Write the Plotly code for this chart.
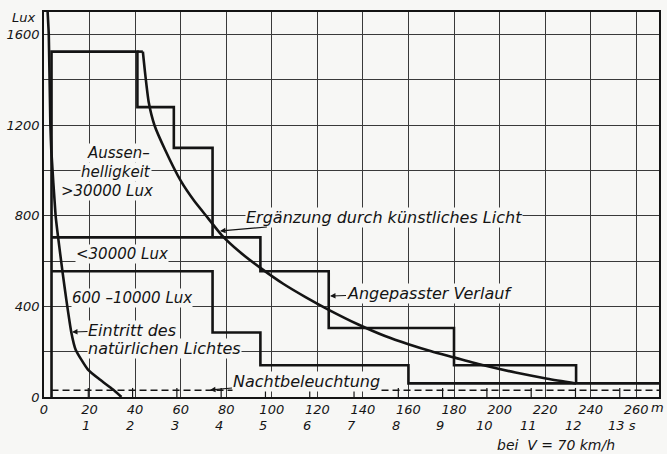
import plotly.graph_objects as go

# ---------------- data ----------------
x_tick_vals = list(range(0, 261, 20))
x_tick_text = [str(v) for v in x_tick_vals]
y_grid_vals = list(range(0, 1601, 200))
y_tick_text = ["0", "", "400", "", "800", "", "1200", "", "1600"]
seconds = list(range(1, 14))
second_labels = [str(s) for s in seconds[:-1]] + ["13 s"]
speed_kmh = 70

# Eintritt des natürlichen Lichtes (steep curve)
nat_x = [1.4, 1.6, 2.1, 2.8, 3.2, 5.1, 6.2, 8.1, 9.8, 12.0, 13.9, 19.3, 24.5, 30.3, 34.0]
nat_y = [1760, 1700, 1600, 1200, 1090, 800, 705, 555, 430, 285, 209, 121, 77, 33, 0]

# Ergänzung durch künstliches Licht (smooth curve, after the plateau)
plateau_x = [41, 43.4]
plateau_y = [1525, 1525]
sup_x = [43.4, 44.5, 46, 48.5, 53, 60, 66, 72, 78, 86, 95, 105, 115, 125, 138, 150, 160, 170, 180, 193, 207, 221, 233.6]
sup_y = [1525, 1420, 1300, 1200, 1095, 955, 865, 790, 715, 640, 570, 500, 440, 385, 320, 268, 233, 202, 175, 140, 108, 81, 60]

# Angepasster Verlauf (steps)
s1_x = [3.3, 3.3, 41, 41, 57, 57, 74, 74]
s1_y = [0, 1525, 1525, 1280, 1280, 1100, 1100, 705]
s2_x = [3.3, 95, 95, 125, 125, 180, 180, 233.6, 233.6]
s2_y = [705, 705, 555, 555, 305, 305, 140, 140, 60]
s3_x = [3.3, 74, 74, 95, 95, 160, 160, 270]
s3_y = [555, 555, 285, 285, 140, 140, 60, 60]

# Nachtbeleuchtung
night_x = [3.3, 270]
night_y = [30, 30]
sec_tick_top = 40

# ---------------- geometry helpers ----------------
W, H = 667, 454
L, R, T, B = 44, 8, 12, 57
X0, X1 = 0, 270
Y0, Y1 = 0, 1700
pw = W - L - R
ph = H - T - B


def px2x(px):
    return (px - L) / pw * (X1 - X0) + X0


def py2y(py):
    return (H - B - py) / ph * (Y1 - Y0) + Y0


def py2paper(py):
    return (H - B - py) / ph


def px2paper(px):
    return (px - L) / pw


BG = "#f7f7f5"
INK = "#141414"
FONT = dict(family="DejaVu Sans", style="italic", color=INK)

fig = go.Figure()

heavy = dict(color=INK, width=2.6)
fig.add_trace(go.Scatter(x=s1_x, y=s1_y, mode="lines", line=heavy, hoverinfo="skip"))
fig.add_trace(go.Scatter(x=s2_x, y=s2_y, mode="lines", line=heavy, hoverinfo="skip"))
fig.add_trace(go.Scatter(x=s3_x, y=s3_y, mode="lines", line=heavy, hoverinfo="skip"))
fig.add_trace(go.Scatter(x=plateau_x, y=plateau_y, mode="lines", line=heavy, hoverinfo="skip"))
fig.add_trace(go.Scatter(x=sup_x, y=sup_y, mode="lines",
                         line=dict(color=INK, width=2.6, shape="spline", smoothing=0.6),
                         hoverinfo="skip"))
fig.add_trace(go.Scatter(x=nat_x, y=nat_y, mode="lines",
                         line=dict(color=INK, width=2.6, shape="spline", smoothing=0.5),
                         hoverinfo="skip"))
fig.add_trace(go.Scatter(x=night_x, y=night_y, mode="lines",
                         line=dict(color=INK, width=1.4, dash="7px,4px"), hoverinfo="skip"))

# second ticks on the base line
sec_m = [s * speed_kmh / 3.6 for s in seconds]
tx, ty = [], []
for m in sec_m:
    tx += [m, m, None]
    ty += [0, sec_tick_top, None]
fig.add_trace(go.Scatter(x=tx, y=ty, mode="lines", line=dict(color=INK, width=1.2),
                         hoverinfo="skip"))

ann = []
C = dict(xanchor="center", yanchor="middle")
# second labels
for m, lab in zip(sec_m, second_labels):
    ann.append(dict(x=m - 1 + (2 if lab == "13 s" else 0), y=py2paper(425), xref="x", yref="paper",
                    text=lab, showarrow=False, font=dict(FONT, size=13), **C))
ann.append(dict(x=px2x(556), y=py2paper(445), xref="x", yref="paper", text="bei  V = 70 km/h",
                showarrow=False, font=dict(FONT, size=14), **C))
ann.append(dict(x=px2x(657), y=py2paper(408), xref="x", yref="paper", text="m",
                showarrow=False, font=dict(FONT, size=13), **C))
ann.append(dict(x=px2paper(24), y=py2paper(17), xref="paper", yref="paper", text="Lux",
                showarrow=False, font=dict(FONT, size=13), **C))

# plain labels
for txt, cx, cy in [("Aussen–", 118, 153), ("helligkeit", 116, 172), (">30000 Lux", 107, 191),
                    ("<30000 Lux", 122, 254), ("600 –10000 Lux", 132, 298)]:
    ann.append(dict(x=px2x(cx), y=py2y(cy), xref="x", yref="y", text=txt, showarrow=False,
                    font=dict(FONT, size=15), bgcolor=BG, borderpad=0, **C))
ann.append(dict(x=px2x(87), y=py2y(348), xref="x", yref="y", text="natürlichen Lichtes",
                xanchor="left", yanchor="middle", showarrow=False, font=dict(FONT, size=16),
                bgcolor=BG, borderpad=0))

# labels with arrows: (text, tip px, text centre px)
for txt, tip, cen in [("Eintritt des", (72, 332), (132, 330)),
                      ("Ergänzung durch künstliches Licht", (220, 231), (384, 217)),
                      ("Angepasster Verlauf", (330, 296), (429, 293)),
                      ("Nachtbeleuchtung", (210, 390), (306, 381))]:
    ann.append(dict(x=px2x(tip[0]), y=py2y(tip[1]), xref="x", yref="y", text=txt,
                    showarrow=True, ax=cen[0] - tip[0], ay=cen[1] - tip[1],
                    arrowhead=2, arrowsize=1, arrowwidth=1.1, arrowcolor=INK, standoff=0,
                    font=dict(FONT, size=16), bgcolor=BG, borderpad=0))

fig.update_layout(
    width=W, height=H,
    margin=dict(l=L, r=R, t=T, b=B, autoexpand=False),
    paper_bgcolor=BG, plot_bgcolor=BG,
    showlegend=False,
    font=dict(FONT, size=13),
    annotations=ann,
    xaxis=dict(range=[X0, X1], tickvals=x_tick_vals, ticktext=x_tick_text,
               showgrid=True, gridcolor="#3a3a3a", gridwidth=1, automargin=False,
               showline=True, linecolor=INK, linewidth=1.6, mirror=True,
               zeroline=False, ticks="", tickfont=dict(FONT, size=13)),
    yaxis=dict(range=[Y0, Y1], tickvals=y_grid_vals, ticktext=y_tick_text,
               showgrid=True, gridcolor="#3a3a3a", gridwidth=1, automargin=False,
               showline=True, linecolor=INK, linewidth=1.6, mirror=True,
               zeroline=False, ticks="", tickfont=dict(FONT, size=13)),
)

fig.write_html("out.html", config={"displayModeBar": False},
               post_script="document.body.style.margin='0px';")
